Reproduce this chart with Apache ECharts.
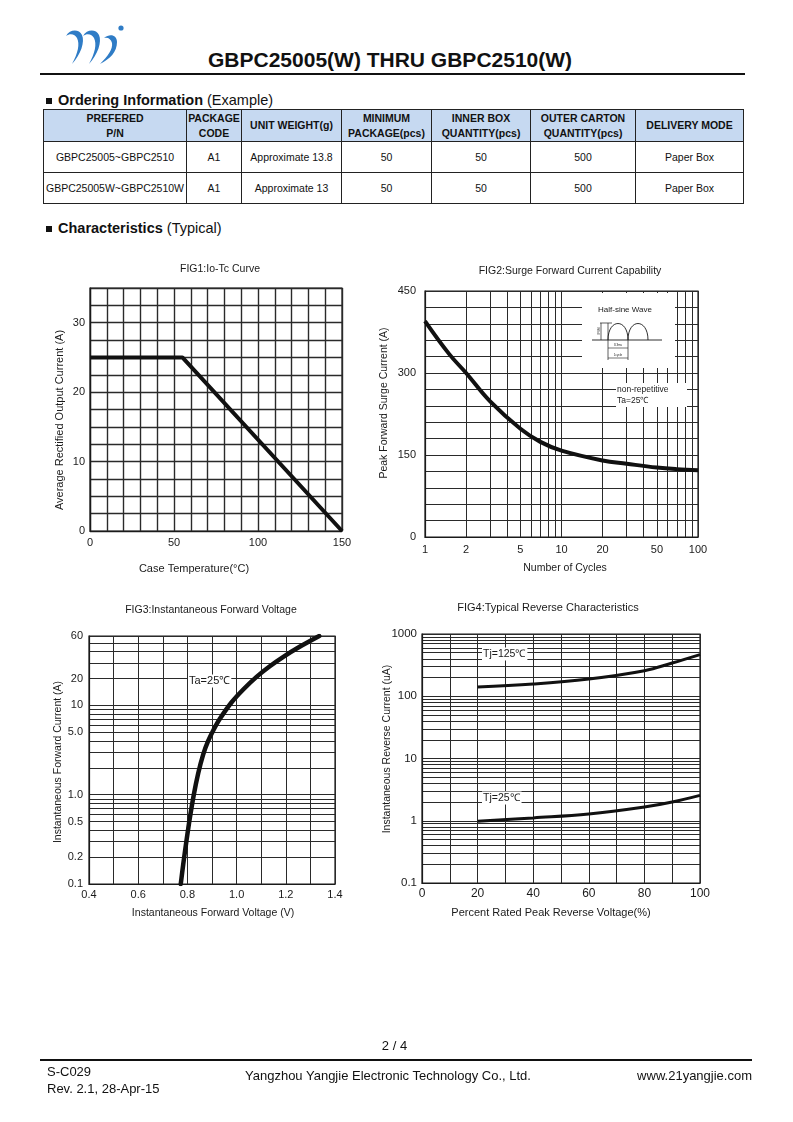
<!DOCTYPE html>
<html>
<head>
<meta charset="utf-8">
<title>GBPC25005(W) THRU GBPC2510(W)</title>
<script src="https://cdn.jsdelivr.net/npm/echarts@6.0.0/dist/echarts.min.js"></script>
<style>
html,body{margin:0;padding:0;background:#fff;}
body{width:793px;height:1122px;position:relative;overflow:hidden;font-family:"Liberation Sans",Arial,sans-serif;color:#111;}
#chart{position:absolute;left:0;top:0;width:793px;height:1122px;}
.abs{position:absolute;white-space:nowrap;}
.title{left:208px;top:48px;font-size:21px;font-weight:bold;line-height:24px;}
.hr{position:absolute;height:1.5px;background:#111;}
.sec{font-size:14.5px;line-height:17px;}
.sq{display:inline-block;width:6px;height:6px;background:#111;margin-right:6px;vertical-align:1px;}
table.order{position:absolute;left:43px;top:109px;border-collapse:collapse;table-layout:fixed;width:700px;}
table.order td,table.order th{border:1.3px solid #222;text-align:center;font-size:10.5px;padding:0;white-space:nowrap;overflow:hidden;}
table.order th{background:#c6d9f1;font-weight:bold;height:31px;line-height:15px;}
table.order td{height:30px;}
.foot{font-size:13px;line-height:16px;}
</style>
</head>
<body>
<svg style="position:absolute;left:64px;top:23px" width="66" height="42" viewBox="0 0 66 42">
  <g fill="#2f7cc6">
    <path d="M2 13 C6 6 15 6 18 12 C21 19 17 31 8 41 C14 30 16 21 13 15 C11 11 6 10 2 13Z"/>
    <path d="M19 13 C23 6 32 6 35 12 C38 19 34 31 25 41 C31 30 33 21 30 15 C28 11 23 10 19 13Z"/>
    <path d="M40 15 C46 10 53 12 53 19 C53 29 46 36 36 41 C44 33 49 26 48 20 C47 16 44 14 40 15Z"/>
    <circle cx="57" cy="5" r="2.6"/>
  </g>
</svg>
<div class="abs title">GBPC25005(W) THRU GBPC2510(W)</div>
<div class="hr" style="top:73px;left:40px;width:705px"></div>

<div class="abs sec" style="left:46px;top:92px"><span class="sq"></span><b>Ordering Information</b> (Example)</div>
<table class="order">
  <colgroup>
    <col style="width:143px"><col style="width:55px"><col style="width:100px"><col style="width:90px"><col style="width:99px"><col style="width:105px"><col style="width:108px">
  </colgroup>
  <tr><th>PREFERED<br>P/N</th><th>PACKAGE<br>CODE</th><th>UNIT WEIGHT(g)</th><th>MINIMUM<br>PACKAGE(pcs)</th><th>INNER BOX<br>QUANTITY(pcs)</th><th>OUTER CARTON<br>QUANTITY(pcs)</th><th>DELIVERY MODE</th></tr>
  <tr><td>GBPC25005~GBPC2510</td><td>A1</td><td>Approximate 13.8</td><td>50</td><td>50</td><td>500</td><td>Paper Box</td></tr>
  <tr><td>GBPC25005W~GBPC2510W</td><td>A1</td><td>Approximate 13</td><td>50</td><td>50</td><td>500</td><td>Paper Box</td></tr>
</table>

<div class="abs sec" style="left:46px;top:220px"><span class="sq"></span><b>Characteristics</b> (Typical)</div>

<div id="chart"></div>

<div class="abs foot" style="left:0;width:789px;text-align:center;top:1038px">2 / 4</div>
<div class="hr" style="top:1059px;left:40px;width:712px"></div>
<div class="abs foot" style="left:47px;top:1064px">S-C029</div>
<div class="abs foot" style="left:47px;top:1081px">Rev. 2.1, 28-Apr-15</div>
<div class="abs foot" style="left:245px;top:1068px">Yangzhou Yangjie Electronic Technology Co., Ltd.</div>
<div class="abs foot" style="right:41px;top:1068px">www.21yangjie.com</div>

<script>
// ---------- FIG1: Io-Tc curve ----------
const fig1Temp = [0, 55, 150];
const fig1Current = [25, 25, 0];
const fig1XLabels = [0, 50, 100, 150];
const fig1YLabels = [0, 10, 20, 30];

// ---------- FIG2: Surge forward current ----------
const fig2Cycles = [1, 1.5, 2, 3, 5, 7, 10, 20, 30, 50, 70, 100];
const fig2Current = [395, 335, 300, 248, 198, 174, 158, 140, 134, 127, 124, 122];
const fig2XGrid = [1, 2, 3, 4, 5, 6, 7, 8, 9, 10, 20, 30, 40, 50, 60, 70, 80, 90, 100];
const fig2XLabels = [1, 2, 5, 10, 20, 50, 100];
const fig2YLabels = [0, 150, 300, 450];

// ---------- FIG3: Instantaneous forward voltage ----------
const fig3Voltage = [0.773, 0.783, 0.796, 0.810, 0.826, 0.844, 0.864, 0.884, 0.905, 0.932, 0.979, 1.027, 1.081, 1.135, 1.19, 1.258, 1.336];
const fig3Current = [0.1, 0.166, 0.302, 0.55, 1.0, 1.74, 2.82, 3.98, 5.25, 7.08, 10.8, 15.1, 20.9, 27.5, 35.1, 45.7, 60];
const fig3XLabels = [0.4, 0.6, 0.8, 1.0, 1.2, 1.4];
const fig3YGrid = [0.1, 0.2, 0.3, 0.4, 0.5, 0.6, 0.7, 0.8, 0.9, 1, 2, 3, 4, 5, 6, 7, 8, 9, 10, 20, 30, 40, 50, 60];
const fig3YLabels = [0.1, 0.2, 0.5, 1, 5, 10, 20, 60];
const fig3YLabelText = ['0.1', '0.2', '0.5', '1.0', '5.0', '10', '20', '60'];

// ---------- FIG4: Typical reverse characteristics ----------
const fig4Percent = [20, 40, 60, 80, 90, 100];
const fig4Tj125 = [141, 157, 189, 257, 342, 466];
const fig4Tj25 = [0.98, 1.11, 1.28, 1.66, 2.0, 2.56];
const fig4XLabels = [0, 20, 40, 60, 80, 100];
const fig4YGrid = [0.1, 0.2, 0.3, 0.4, 0.5, 0.6, 0.7, 0.8, 0.9,
  1, 2, 3, 4, 5, 6, 7, 8, 9,
  10, 20, 30, 40, 50, 60, 70, 80, 90,
  100, 200, 300, 400, 500, 600, 700, 800, 900, 1000];
const fig4YLabels = [0.1, 1, 10, 100, 1000];

const FONT = '"Liberation Sans", Arial, sans-serif';
const INK = '#1a1a1a';
const GRIDC = '#2a2a2a';

function near(list, v) {
  for (let i = 0; i < list.length; i++) {
    if (Math.abs(list[i] - v) <= Math.abs(list[i]) * 1e-6 + 1e-9) return i;
  }
  return -1;
}
function pick(list, fmt) {
  return function (v) { const i = near(list, v); return i < 0 ? '' : (fmt ? fmt(i, v) : String(list[i])); };
}
function zip(a, b) { return a.map((x, i) => [x, b[i]]); }

const axisLine = { show: true, lineStyle: { color: INK, width: 1.2 } };
function split(w, extra) { return Object.assign({ show: true, lineStyle: { color: GRIDC, width: w } }, extra || {}); }
function lab(size, margin, extra) { return Object.assign({ color: INK, fontSize: size, fontFamily: FONT, margin: margin, hideOverlap: false, showMinLabel: true, showMaxLabel: true }, extra || {}); }

function txt(text, x, y, size, opts) {
  opts = opts || {};
  return {
    type: 'text', x: x, y: y, rotation: opts.rot || 0, z: 100,
    style: Object.assign({
      text: text, x: 0, y: 0, fill: INK,
      font: (opts.weight || 'normal') + ' ' + size + 'px ' + FONT,
      textAlign: opts.align || 'center', align: opts.align || 'center',
      textVerticalAlign: 'middle', verticalAlign: 'middle'
    }, opts.style || {})
  };
}
function seg(x1, y1, x2, y2, w) {
  return { type: 'line', z: 101, shape: { x1: x1, y1: y1, x2: x2, y2: y2 }, style: { stroke: INK, lineWidth: w || 0.8 } };
}
function arch(x1, x2, yBase, yCtrl) {
  return { type: 'bezierCurve', z: 101,
    shape: { x1: x1, y1: yBase, x2: x2, y2: yBase, cpx1: x1, cpy1: yCtrl, cpx2: x2, cpy2: yCtrl },
    style: { stroke: INK, lineWidth: 0.9, fill: null } };
}

const chart = echarts.init(document.getElementById('chart'), null, { renderer: 'canvas', width: 793, height: 1122 });

const option = {
  animation: false,
  grid: [
    { left: 90, top: 288, width: 252, height: 243, show: true, borderColor: INK, borderWidth: 1.2, backgroundColor: 'transparent' },
    { left: 425, top: 291, width: 273, height: 246, show: true, borderColor: INK, borderWidth: 1.2, backgroundColor: 'transparent' },
    { left: 89, top: 636, width: 246, height: 248, show: true, borderColor: INK, borderWidth: 1.2, backgroundColor: 'transparent' },
    { left: 422, top: 634, width: 278, height: 249, show: true, borderColor: INK, borderWidth: 1.2, backgroundColor: 'transparent' }
  ],
  xAxis: [
    { gridIndex: 0, type: 'value', min: 0, max: 150, interval: 10, axisLine: axisLine, axisTick: { show: false },
      axisLabel: lab(11, 6, { formatter: pick(fig1XLabels) }), splitLine: split(1.4) },
    { gridIndex: 1, type: 'log', logBase: 10, min: 1, max: 100, axisLine: axisLine,
      axisTick: { show: false, customValues: fig2XGrid },
      axisLabel: lab(11, 7, { customValues: fig2XLabels }), splitLine: split(1, { customValues: fig2XGrid }) },
    { gridIndex: 2, type: 'value', min: 0.4, max: 1.4, interval: 0.1, axisLine: axisLine, axisTick: { show: false },
      axisLabel: lab(11, 5, { formatter: pick(fig3XLabels, (i) => fig3XLabels[i].toFixed(1)) }), splitLine: split(1) },
    { gridIndex: 3, type: 'value', min: 0, max: 100, interval: 10, axisLine: axisLine, axisTick: { show: false },
      axisLabel: lab(12, 5, { formatter: pick(fig4XLabels) }), splitLine: split(1) }
  ],
  yAxis: [
    { gridIndex: 0, type: 'value', min: 0, max: 35, interval: 2.5, axisLine: axisLine, axisTick: { show: false },
      axisLabel: lab(11, 5, { formatter: pick(fig1YLabels) }), splitLine: split(1.4) },
    { gridIndex: 1, type: 'value', min: 0, max: 450, interval: 30, axisLine: axisLine, axisTick: { show: false },
      axisLabel: lab(11, 9, { formatter: pick(fig2YLabels) }), splitLine: split(1) },
    { gridIndex: 2, type: 'log', logBase: 10, min: 0.1, max: 60, axisLine: axisLine,
      axisTick: { show: false, customValues: fig3YGrid },
      axisLabel: lab(11, 6, { customValues: fig3YLabels, formatter: pick(fig3YLabels, (i) => fig3YLabelText[i]) }),
      splitLine: split(1, { customValues: fig3YGrid }) },
    { gridIndex: 3, type: 'log', logBase: 10, min: 0.1, max: 1000, axisLine: axisLine,
      axisTick: { show: false, customValues: fig4YGrid },
      axisLabel: lab(11.5, 5, { customValues: fig4YLabels, formatter: pick(fig4YLabels) }),
      splitLine: split(1, { customValues: fig4YGrid }) }
  ],
  series: [
    { type: 'line', xAxisIndex: 0, yAxisIndex: 0, data: zip(fig1Temp, fig1Current), symbol: 'none',
      lineStyle: { color: '#111', width: 4 }, z: 5 },
    { type: 'line', xAxisIndex: 1, yAxisIndex: 1, data: zip(fig2Cycles, fig2Current), symbol: 'none', smooth: 0.4,
      lineStyle: { color: '#111', width: 4 }, z: 5 },
    { type: 'line', xAxisIndex: 2, yAxisIndex: 2, data: zip(fig3Voltage, fig3Current), symbol: 'none', smooth: 0.3,
      lineStyle: { color: '#111', width: 4.5, cap: 'round' }, z: 5 },
    { type: 'line', xAxisIndex: 3, yAxisIndex: 3, data: zip(fig4Percent, fig4Tj125), symbol: 'none', smooth: 0.4,
      lineStyle: { color: '#111', width: 3 }, z: 5 },
    { type: 'line', xAxisIndex: 3, yAxisIndex: 3, data: zip(fig4Percent, fig4Tj25), symbol: 'none', smooth: 0.4,
      lineStyle: { color: '#111', width: 3 }, z: 5 }
  ],
  graphic: { elements: [
    // titles
    txt('FIG1:Io-Tc Curve', 220, 269, 10.5),
    txt('FIG2:Surge Forward Current Capability', 570, 271, 10.5),
    txt('FIG3:Instantaneous Forward Voltage', 211, 610, 10.5),
    txt('FIG4:Typical Reverse Characteristics', 548, 608, 11),
    // axis names
    txt('Average Rectified Output Current (A)', 60, 420, 11, { rot: Math.PI / 2 }),
    txt('Case Temperature(°C)', 194, 569, 11),
    txt('Peak Forward Surge Current (A)', 384, 403, 10.5, { rot: Math.PI / 2 }),
    txt('Number of Cycles', 565, 568, 10.5),
    txt('Instantaneous Forward Current (A)', 58, 762, 10.5, { rot: Math.PI / 2 }),
    txt('Instantaneous Forward Voltage (V)', 213, 913, 10.5),
    txt('Instantaneous Reverse Current (uA)', 387, 749, 10.5, { rot: Math.PI / 2 }),
    txt('Percent Rated Peak Reverse Voltage(%)', 551, 913, 11),
    // curve annotations
    txt('Ta=25℃', 188, 681, 11, { align: 'left', style: { backgroundColor: '#fff', padding: [1, 1, 1, 1] } }),
    txt('Tj=125℃', 482, 654, 10.5, { align: 'left', style: { backgroundColor: '#fff', padding: [1, 2, 1, 1] } }),
    txt('Tj=25℃', 482, 798, 10.5, { align: 'left', style: { backgroundColor: '#fff', padding: [1, 2, 1, 1] } }),
    // FIG2 inset panels
    { type: 'rect', z: 90, shape: { x: 582, y: 293, width: 93, height: 75 }, style: { fill: '#fff' } },
    { type: 'rect', z: 90, shape: { x: 616, y: 383, width: 71, height: 24 }, style: { fill: '#fff' } },
    txt('Half-sine Wave', 598, 310, 8, { align: 'left' }),
    seg(592, 340, 662, 340, 0.9),
    arch(608, 628, 340, 318),
    arch(628, 648, 340, 318),
    seg(600, 323, 612, 323, 0.7),
    seg(601, 323, 601, 340, 0.7),
    seg(608, 323, 608, 360, 0.7),
    seg(628, 340, 628, 360, 0.7),
    seg(608, 348, 628, 348, 0.6),
    seg(608, 358, 628, 358, 0.6),
    txt('IFSM', 599, 331, 3, { rot: Math.PI / 2 }),
    txt('8.3ms', 618, 345.5, 3),
    txt('1cycle', 618, 355.5, 3),
    txt('non-repetitive', 617, 390, 8.5, { align: 'left' }),
    txt('Ta=25℃', 617, 401, 8.5, { align: 'left' })
  ] }
};

chart.setOption(option);
</script>
</body>
</html>
